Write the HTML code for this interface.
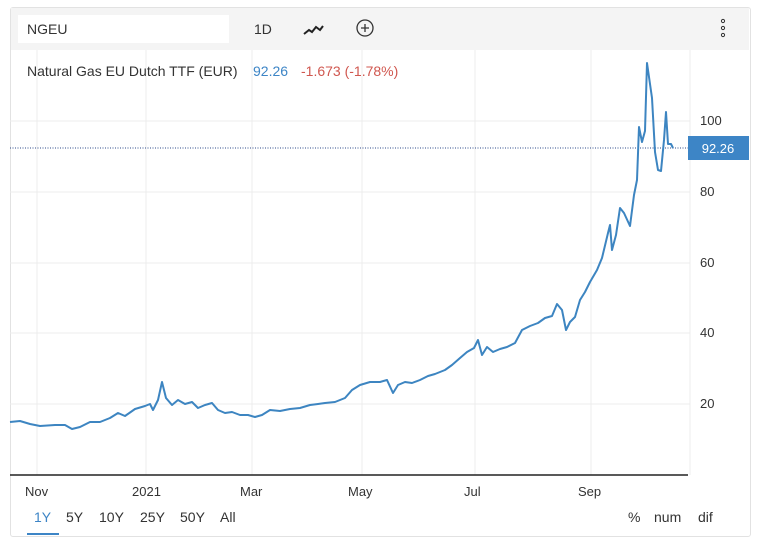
<!DOCTYPE html>
<html><head><style>
body{margin:0;width:760px;height:541px;background:#fff;font-family:"Liberation Sans",sans-serif;overflow:hidden;position:relative}
.card{position:absolute;left:10px;top:7px;width:739px;height:528px;border:1px solid #e2e2e2;border-radius:3px}
.hdr{position:absolute;left:11px;top:8px;width:738px;height:42px;background:#f4f4f4}
.t{position:absolute;font-size:14px;color:#333}
</style></head><body>
<div class="card"></div>
<div class="hdr"></div>
<div style="position:absolute;left:18px;top:15px;width:211px;height:28px;background:#fff"></div>
<div class="t" style="left:27px;top:21px">NGEU</div>
<div class="t" style="left:254px;top:21px">1D</div>
<svg style="position:absolute;left:0;top:0" width="760" height="541">
<polyline points="304,34 309,30 312,32 316,27 320,30 323,26" fill="none" stroke="#222" stroke-width="2"/>
<circle cx="365" cy="28" r="8" fill="none" stroke="#333" stroke-width="1.3"/>
<path d="M361 28h8M365 24v8" stroke="#333" stroke-width="1.3"/>
<circle cx="723" cy="21" r="1.6" fill="none" stroke="#333"/><circle cx="723" cy="28" r="1.6" fill="none" stroke="#333"/><circle cx="723" cy="35" r="1.6" fill="none" stroke="#333"/>
<g stroke="#ececec" stroke-width="1">
<line x1="37" y1="50" x2="37" y2="475"/><line x1="146" y1="50" x2="146" y2="475"/><line x1="252" y1="50" x2="252" y2="475"/><line x1="362" y1="50" x2="362" y2="475"/><line x1="475" y1="50" x2="475" y2="475"/><line x1="591" y1="50" x2="591" y2="475"/><line x1="690" y1="50" x2="690" y2="475"/>
<line x1="10" y1="121" x2="690" y2="121"/><line x1="10" y1="192" x2="690" y2="192"/><line x1="10" y1="263" x2="690" y2="263"/><line x1="10" y1="333" x2="690" y2="333"/><line x1="10" y1="404" x2="690" y2="404"/>
</g>
<line x1="10" y1="475" x2="688" y2="475" stroke="#222" stroke-width="1.5"/>
<line x1="10" y1="148" x2="688" y2="148" stroke="#2c4a8a" stroke-width="1" stroke-dasharray="1,1.5"/>
<polyline fill="none" stroke="#3d85c1" stroke-width="2" stroke-linejoin="round" points="10,422 20,421 30,424 40,426 55,425 65,425 72,429 80,427 90,422 100,422 110,418 118,413 125,416 135,409 145,406 150,404 153,410 158,400 162,382 166,398 172,405 178,400 185,404 192,402 198,408 205,405 212,403 218,410 225,413 232,412 240,415 248,415 255,417 262,415 270,410 280,411 290,409 300,408 310,405 318,404 325,403 335,402 345,398 352,390 360,385 370,382 380,382 387,380 393,393 398,385 405,382 412,383 420,380 428,376 435,374 445,370 452,365 460,358 467,352 474,348 478,340 482,355 487,347 493,352 500,349 507,347 515,343 522,330 530,326 538,323 545,318 552,316 557,304 562,310 566,330 570,322 575,317 580,300 585,292 590,282 597,270 602,258 608,233 610,225 612,250 616,235 620,208 624,213 630,226 634,195 637,180 639,127 642,142 645,131 647,63 652,98 655,152 658,170 661,171 664,140 666,112 668,144 671,144 673,148"/>
<rect x="688" y="136" width="61" height="24" fill="#3d85c6"/>
<text x="718" y="153" font-size="13" fill="#fff" text-anchor="middle" font-family="Liberation Sans">92.26</text>
<g font-size="13" fill="#333" font-family="Liberation Sans">
<text x="700" y="125">100</text><text x="700" y="196">80</text><text x="700" y="267">60</text><text x="700" y="337">40</text><text x="700" y="408">20</text>
<text x="25" y="496">Nov</text><text x="132" y="496">2021</text><text x="240" y="496">Mar</text><text x="348" y="496">May</text><text x="464" y="496">Jul</text><text x="578" y="496">Sep</text>
</g>
<g font-size="14" fill="#333" font-family="Liberation Sans">
<text x="34" y="522" fill="#3d85c6">1Y</text><text x="66" y="522">5Y</text><text x="99" y="522">10Y</text><text x="140" y="522">25Y</text><text x="180" y="522">50Y</text><text x="220" y="522">All</text>
<text x="628" y="522">%</text><text x="654" y="522">num</text><text x="698" y="522">dif</text>
</g>
<line x1="27" y1="534" x2="59" y2="534" stroke="#3d85c6" stroke-width="2"/>
<text x="27" y="76" font-size="14" fill="#333" font-family="Liberation Sans">Natural Gas EU Dutch TTF (EUR)</text>
<text x="253" y="76" font-size="14" fill="#3d85c6" font-family="Liberation Sans">92.26</text>
<text x="301" y="76" font-size="14" fill="#d0574f" font-family="Liberation Sans">-1.673 (-1.78%)</text>
</svg>
</body></html>
